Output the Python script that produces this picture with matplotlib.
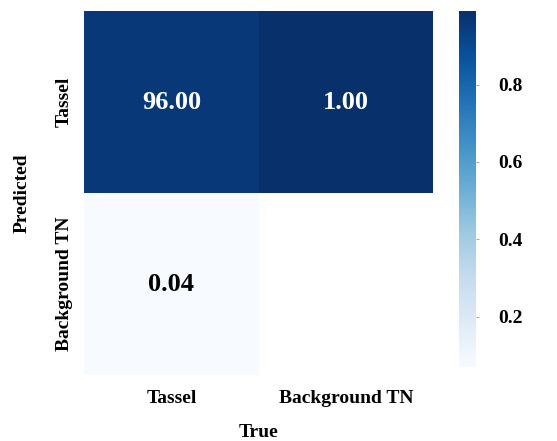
import numpy as np
import matplotlib
matplotlib.use("Agg")
import matplotlib.pyplot as plt
import seaborn as sns

classes = ["Tassel", "Background TN"]
shade = [[0.96, 1.00],
         [0.04, np.nan]]
cell_text = [["96.00", "1.00"],
             ["0.04", ""]]

plt.rcParams['font.family'] = ['Liberation Serif', 'DejaVu Serif']
plt.rcParams['font.weight'] = 'bold'

fig = plt.figure(figsize=(5.57, 4.41), dpi=100)
ax = fig.add_axes([0.151, 0.1497, 0.627, 0.825])
cax = fig.add_axes([0.824, 0.168, 0.0305, 0.807])

data = np.array(shade, dtype=float)
sns.heatmap(data, ax=ax, cbar_ax=cax, cmap="Blues", vmin=0.07, vmax=0.99,
            annot=np.array(cell_text), fmt="",
            annot_kws={"fontsize": 19, "fontweight": "bold"},
            xticklabels=classes, yticklabels=classes)

# white/black annotation colours like the reference
for t, val in zip(ax.texts, [v for row in shade for v in row if not np.isnan(v)]):
    t.set_color("white" if val > 0.5 else "black")

ax.tick_params(axis="both", length=0, labelsize=14)
ax.tick_params(axis="x", pad=11)
ax.tick_params(axis="y", pad=8)
for lab in ax.get_xticklabels() + ax.get_yticklabels():
    lab.set_fontweight("bold")
plt.setp(ax.get_yticklabels(), rotation=90, va="center")
ax.set_xlabel("True", fontsize=14, fontweight="bold", labelpad=12)
ax.set_ylabel("Predicted", fontsize=14, fontweight="bold", labelpad=18)

cax.set_yticks([0.2, 0.4, 0.6, 0.8])
cax.tick_params(length=2, width=0.6, color="#999999", labelsize=14, pad=14)
for lab in cax.get_yticklabels():
    lab.set_fontweight("bold")
for s in cax.spines.values():
    s.set_visible(False)

fig.savefig("out.png", dpi=100)
